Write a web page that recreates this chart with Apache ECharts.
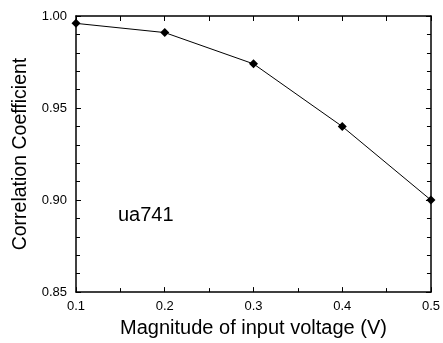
<!DOCTYPE html>
<html>
<head>
<meta charset="utf-8">
<title>ua741</title>
<style>
  body { margin: 0; background: #fff; }
</style>
</head>
<body>
<div id="main" style="width: 443px;height:343px;"></div>
<script src="https://cdn.jsdelivr.net/npm/echarts@6/dist/echarts.min.js"></script>
<script>
    // values
    var voltage = [0.1, 0.2, 0.3, 0.4, 0.5];
    var corr = [0.996, 0.991, 0.974, 0.940, 0.900];
    var yTicks = ['0.85', '0.90', '0.95', '1.00'];
    var xTicks = ['0.1', '0.2', '0.3', '0.4', '0.5'];

    var font = 'Liberation Sans, Arial, sans-serif';
    var myChart = echarts.init(document.getElementById('main'));
    var pts = voltage.map(function (v, i) { return [v, corr[i]]; });

    var lineStyle = { color: '#000', width: 1.5 };
    option = {
        animation: false,
        grid: { left: 76, right: 5, top: 16, bottom: 37 },
        textStyle: { fontFamily: font },
        xAxis: [{
            type: 'value',
            min: 0.1, max: 0.5, interval: 0.1,
            name: 'Magnitude of input voltage (V)',
            nameLocation: 'middle',
            nameGap: 18,
            nameTextStyle: { fontSize: 20, color: '#000', fontFamily: font },
            axisLine: { lineStyle: lineStyle },
            axisTick: { inside: true, length: 5, lineStyle: { color: '#000' } },
            minorTick: { show: true, splitNumber: 2, length: 4, lineStyle: { color: '#000' } },
            splitLine: { show: false },
            axisLabel: {
                margin: 8, fontSize: 13, color: '#000', fontFamily: font,
                formatter: function (v) { return xTicks[Math.round((v - 0.1) * 10)]; }
            }
        }, {
            type: 'value', position: 'top',
            min: 0.1, max: 0.5, interval: 0.05,
            axisLine: { show: true, lineStyle: lineStyle },
            axisTick: { inside: true, length: 5, lineStyle: { color: '#000' } },
            splitLine: { show: false },
            axisLabel: { show: false }
        }],
        yAxis: [{
            type: 'value',
            min: 0.85, max: 1.0, interval: 0.05,
            name: 'Correlation Coefficient',
            nameLocation: 'middle',
            nameGap: 45,
            nameTextStyle: { fontSize: 19.5, color: '#000', fontFamily: font },
            axisLine: { show: true, lineStyle: lineStyle },
            axisTick: { inside: true, length: 5, lineStyle: { color: '#000' } },
            minorTick: { show: true, splitNumber: 5, length: 4, lineStyle: { color: '#000' } },
            splitLine: { show: false },
            axisLabel: {
                margin: 9, fontSize: 13, color: '#000', fontFamily: font,
                formatter: function (v) { return yTicks[Math.round((v - 0.85) * 20)]; }
            }
        }, {
            type: 'value', position: 'right',
            min: 0.85, max: 1.0, interval: 0.05,
            axisLine: { show: true, lineStyle: lineStyle },
            axisTick: { inside: true, length: 5, lineStyle: { color: '#000' } },
            minorTick: { show: true, splitNumber: 5, length: 4, lineStyle: { color: '#000' } },
            splitLine: { show: false },
            axisLabel: { show: false }
        }],
        graphic: [{
            type: 'text',
            left: 118,
            top: 205,
            style: { text: 'ua741', fontSize: 20, fill: '#000', fontFamily: font }
        }],
        series: [{
            type: 'line',
            data: pts,
            symbol: 'diamond',
            symbolSize: 9,
            lineStyle: { color: '#000', width: 1 },
            itemStyle: { color: '#000' },
            clip: false
        }]
    };
    myChart.setOption(option);
</script>
</body>
</html>
